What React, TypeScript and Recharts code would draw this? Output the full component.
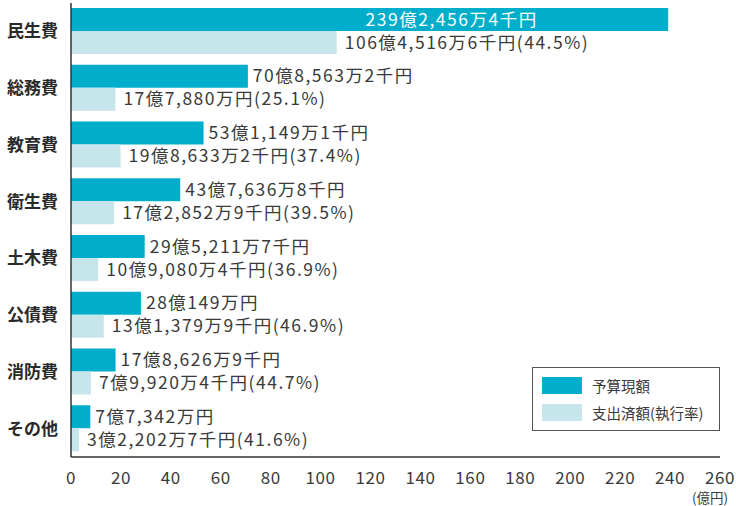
import { BarChart, Bar, XAxis, YAxis, LabelList } from 'recharts';

const categories = ['民生費', '総務費', '教育費', '衛生費', '土木費', '公債費', '消防費', 'その他'];
// 億円
const budget = [239.2456, 70.8563, 53.1149, 43.7637, 29.5212, 28.0149, 17.8627, 7.7342];
const spent = [106.4517, 17.788, 19.8633, 17.2853, 10.908, 13.138, 7.992, 3.2203];
const budgetLabels = [
  '239億2,456万4千円',
  '70億8,563万2千円',
  '53億1,149万1千円',
  '43億7,636万8千円',
  '29億5,211万7千円',
  '28億149万円',
  '17億8,626万9千円',
  '7億7,342万円',
];
const spentLabels = [
  '106億4,516万6千円(44.5%)',
  '17億7,880万円(25.1%)',
  '19億8,633万2千円(37.4%)',
  '17億2,852万9千円(39.5%)',
  '10億9,080万4千円(36.9%)',
  '13億1,379万9千円(46.9%)',
  '7億9,920万4千円(44.7%)',
  '3億2,202万7千円(41.6%)',
];
const xTicks = [0, 20, 40, 60, 80, 100, 120, 140, 160, 180, 200, 220, 240, 260];

const DARK = '#00aecb';
const LIGHT = '#c7e6eb';
const FONT = '"Noto Sans CJK JP", "Noto Sans", sans-serif';

const data = categories.map((name, i) => ({
  name,
  budget: budget[i],
  spent: spent[i],
}));

const BudgetLabel = (props: any) => {
  const { x, y, width, height, index } = props;
  const inside = budget[index] > 200;
  return (
    <text
      x={inside ? x + width / 2 - 4 : x + width + 5}
      y={y + height / 2}
      dy="0.35em"
      fill={inside ? '#fff' : '#3a3a3a'}
      fontSize={17.5}
      letterSpacing={1.5}
      fontFamily={FONT}
      textAnchor="start"
    >
      {budgetLabels[index]}
    </text>
  );
};

const SpentLabel = (props: any) => {
  const { x, y, width, height, index } = props;
  return (
    <text
      x={x + width + 8}
      y={y + height / 2}
      dy="0.35em"
      fill="#3a3a3a"
      fontSize={17.5}
      letterSpacing={1.5}
      fontFamily={FONT}
      textAnchor="start"
    >
      {spentLabels[index]}
    </text>
  );
};

const CategoryTick = (props: any) => {
  const { x, y, payload } = props;
  return (
    <text x={x - 5} y={y} dy="0.35em" textAnchor="end" fontSize={17} fontWeight="bold" fill="#2a2a2a" fontFamily={FONT}>
      {payload.value}
    </text>
  );
};

const legendItems = [
  { c: DARK, t: '予算現額' },
  { c: LIGHT, t: '支出済額(執行率)' },
];

export default function App() {
  return (
    <div style={{ position: 'absolute', left: 0, top: 0, width: 736, height: 506, overflow: 'hidden', background: '#fff' }}>
      <BarChart
        width={736}
        height={506}
        data={data}
        layout="vertical"
        margin={{ top: 3, right: 16, bottom: 0, left: 0 }}
        barGap={0}
      >
        <XAxis
          type="number"
          domain={[0, 260]}
          ticks={xTicks}
          interval={0}
          tickLine={false}
          axisLine={{ stroke: '#333', strokeWidth: 1.5 }}
          height={49}
          tickMargin={9}
          tick={{ fontSize: 17, fill: '#3a3a3a', fontFamily: FONT, letterSpacing: 0.6 }}
        />
        <YAxis
          type="category"
          dataKey="name"
          width={71}
          tickLine={false}
          axisLine={{ stroke: '#333', strokeWidth: 1.5 }}
          tick={<CategoryTick />}
        />
        <Bar dataKey="budget" name="予算現額" fill={DARK} barSize={23} isAnimationActive={false}>
          <LabelList dataKey="budget" content={<BudgetLabel />} />
        </Bar>
        <Bar dataKey="spent" name="支出済額(執行率)" fill={LIGHT} barSize={23} isAnimationActive={false}>
          <LabelList dataKey="spent" content={<SpentLabel />} />
        </Bar>
      </BarChart>
      <div
        style={{
          position: 'absolute',
          left: 532,
          top: 367,
          border: '1.5px solid #555',
          width: 188,
          height: 64,
          boxSizing: 'border-box',
          background: '#fff',
          fontFamily: FONT,
          fontSize: 14.5,
          color: '#3a3a3a',
          padding: '9px 0 0 9px',
        }}
      >
        {legendItems.map((it) => (
          <div key={it.t} style={{ display: 'flex', alignItems: 'center', height: 17, marginBottom: 10 }}>
            <div style={{ width: 40, height: 17, background: it.c, marginRight: 10 }} />
            <span>{it.t}</span>
          </div>
        ))}
      </div>
      <div style={{ position: 'absolute', left: 692, top: 490, fontSize: 13.5, lineHeight: '14px', fontFamily: FONT, color: '#3a3a3a', whiteSpace: 'nowrap' }}>
        (億円)
      </div>
    </div>
  );
}
